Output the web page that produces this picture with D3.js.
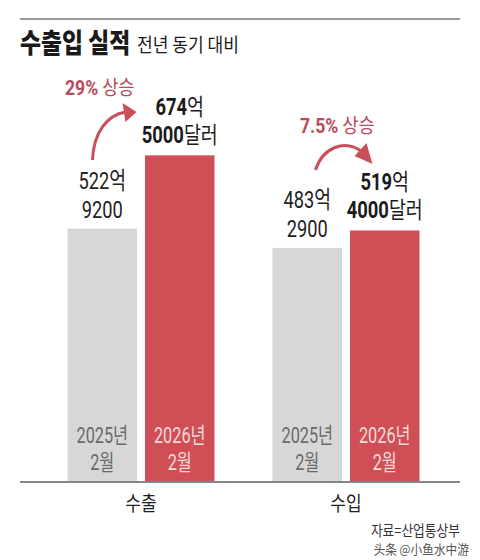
<!DOCTYPE html>
<html><head><meta charset="utf-8">
<script src="https://cdn.jsdelivr.net/npm/d3@7"></script>
<style>
html,body{margin:0;padding:0;background:#fff;}
svg{display:block;}
</style></head>
<body>
<svg id="c" width="480" height="560"></svg>
<script>
const categories = ["수출", "수입"];
const years = ["2025", "2026"];
const yearLabels = [["2025년", "2월"], ["2026년", "2월"]];
const exportValues = [522.92, 674.5];   // 억 달러
const importValues = [483.29, 519.4];
const prevLabels = [["522억", "9200"], ["483억", "2900"]];
const currNum = [["674", "5000"], ["519", "4000"]];
const growth = ["29%", "7.5%"];

const W = 480, H = 560;
const svg = d3.select("#c");
const FONT = "'Roboto','Noto Sans CJK KR',sans-serif";
const KFONT = "'Noto Sans CJK KR','Noto Sans',sans-serif";
const GRAY = "#d7d7d7", RED = "#d04f57", ARROW = "#c9505a";

const y = d3.scaleLinear().domain([0, 700]).range([482, 143]);
const x0 = d3.scaleBand().domain(categories).range([38.5, 448.5]).paddingInner(0.283).paddingOuter(0.1415);
const x1 = d3.scaleBand().domain(years).range([0, x0.bandwidth()]).paddingInner(0.103);

const data = categories.map((c, i) => ({cat: c, vals: i === 0 ? exportValues : importValues}));

// condensed text helper
function ctext(g, x, yy, parts, opts) {
  const sx = opts.sx || 0.8;
  const gg = g.append("g").attr("transform", `translate(${x},${yy}) scale(${sx},1)`);
  const t = gg.append("text").attr("text-anchor", opts.anchor || "middle")
    .attr("font-size", opts.size).attr("fill", opts.fill || "#222").attr("font-family", FONT);
  parts.forEach(p => {
    t.append("tspan").text(p.t).attr("font-weight", p.b ? (p.b === 2 ? 900 : 700) : 400)
      .attr("font-family", p.k ? KFONT : FONT);
  });
  return t;
}

// top rule
svg.append("line").attr("x1", 20).attr("x2", 460).attr("y1", 19).attr("y2", 19)
  .attr("stroke", "#9a9a9a").attr("stroke-width", 2);

// title
ctext(svg, 20, 53, [{t: "수출입 실적", b: 2, k: true}], {anchor: "start", size: 27, sx: 0.845, fill: "#1a1a1a"});
ctext(svg, 137, 52, [{t: "전년 동기 대비", k: true}], {anchor: "start", size: 19, sx: 0.9, fill: "#1a1a1a"});

// bars
const groups = svg.selectAll("g.grp").data(data).join("g").attr("class", "grp")
  .attr("transform", d => `translate(${x0(d.cat)},0)`);

groups.selectAll("rect").data(d => d.vals.map((v, j) => ({v, yr: years[j], j})))
  .join("rect")
  .attr("x", d => x1(d.yr)).attr("width", x1.bandwidth())
  .attr("y", d => y(d.v)).attr("height", d => y(0) - y(d.v))
  .attr("fill", d => d.j === 0 ? GRAY : RED);

// in-bar year labels
groups.each(function(d) {
  const g = d3.select(this);
  years.forEach((yr, j) => {
    const cx = x1(yr) + x1.bandwidth() / 2;
    const col = j === 0 ? "#6a6a6a" : "#f6dada";
    ctext(g, cx, 443, [{t: yearLabels[j][0]}], {size: 22, sx: 0.74, fill: col});
    ctext(g, cx, 470, [{t: yearLabels[j][1]}], {size: 22, sx: 0.74, fill: col});
  });
});

// value labels
groups.each(function(d, i) {
  const g = d3.select(this);
  const cxp = x1(years[0]) + x1.bandwidth() / 2;
  const cxc = x1(years[1]) + x1.bandwidth() / 2;
  const tp = y(d.vals[0]);
  ctext(g, cxp, tp - 40, [{t: prevLabels[i][0]}], {size: 24, sx: 0.76, fill: "#222"});
  ctext(g, cxp, tp - 11, [{t: prevLabels[i][1]}], {size: 24, sx: 0.76, fill: "#222"});
  const tc = y(d.vals[1]);
  ctext(g, cxc, tc - 40, [{t: currNum[i][0], b: true}, {t: "억"}], {size: 23, sx: 0.8, fill: "#1a1a1a"});
  ctext(g, cxc, tc - 12, [{t: currNum[i][1], b: true}, {t: "달러"}], {size: 23, sx: 0.8, fill: "#1a1a1a"});
});

// growth labels + arrows
const gl = [
  {x: 65, y: 95},
  {x: 300, y: 133}
];
growth.forEach((gr, i) => {
  ctext(svg, gl[i].x, gl[i].y, [{t: gr, b: true}, {t: " 상승", k: true}], {anchor: "start", size: 20, sx: 0.88, fill: "#b94a5a"});
});

// arrow 1 (export)
const bx1 = x0(categories[0]) + x1(years[0]);
svg.append("path")
  .attr("d", `M${bx1 + 25},160 C${bx1 + 26},132 ${bx1 + 40},115 ${bx1 + 58},112`)
  .attr("fill", "none").attr("stroke", ARROW).attr("stroke-width", 3);
svg.append("path")
  .attr("d", `M${bx1 + 69},112 L${bx1 + 55},103 L${bx1 + 58},122 Z`).attr("fill", ARROW);

// arrow 2 (import)
const bx2 = x0(categories[1]) + x1(years[0]);
svg.append("path")
  .attr("d", `M${bx2 + 43},170 C${bx2 + 50},148 ${bx2 + 72},138 ${bx2 + 90},152`)
  .attr("fill", "none").attr("stroke", ARROW).attr("stroke-width", 3);
svg.append("path")
  .attr("d", `M${bx2 + 100},164 L${bx2 + 82},156 L${bx2 + 94},143 Z`).attr("fill", ARROW);

// baseline
svg.append("line").attr("x1", 20).attr("x2", 460).attr("y1", y(0)).attr("y2", y(0))
  .attr("stroke", "#858585").attr("stroke-width", 2);

// category labels
categories.forEach(c => {
  ctext(svg, x0(c) + x0.bandwidth() / 2, 511, [{t: c, k: true}], {size: 20, sx: 0.85, fill: "#222"});
});

// source
ctext(svg, 460, 536, [{t: "자료=산업통상부", k: true}], {anchor: "end", size: 15, sx: 0.85, fill: "#333"});
ctext(svg, 469, 554, [{t: "头条 @小鱼水中游", k: true}], {anchor: "end", size: 13, sx: 0.9, fill: "#555"});
</script>
</body></html>
